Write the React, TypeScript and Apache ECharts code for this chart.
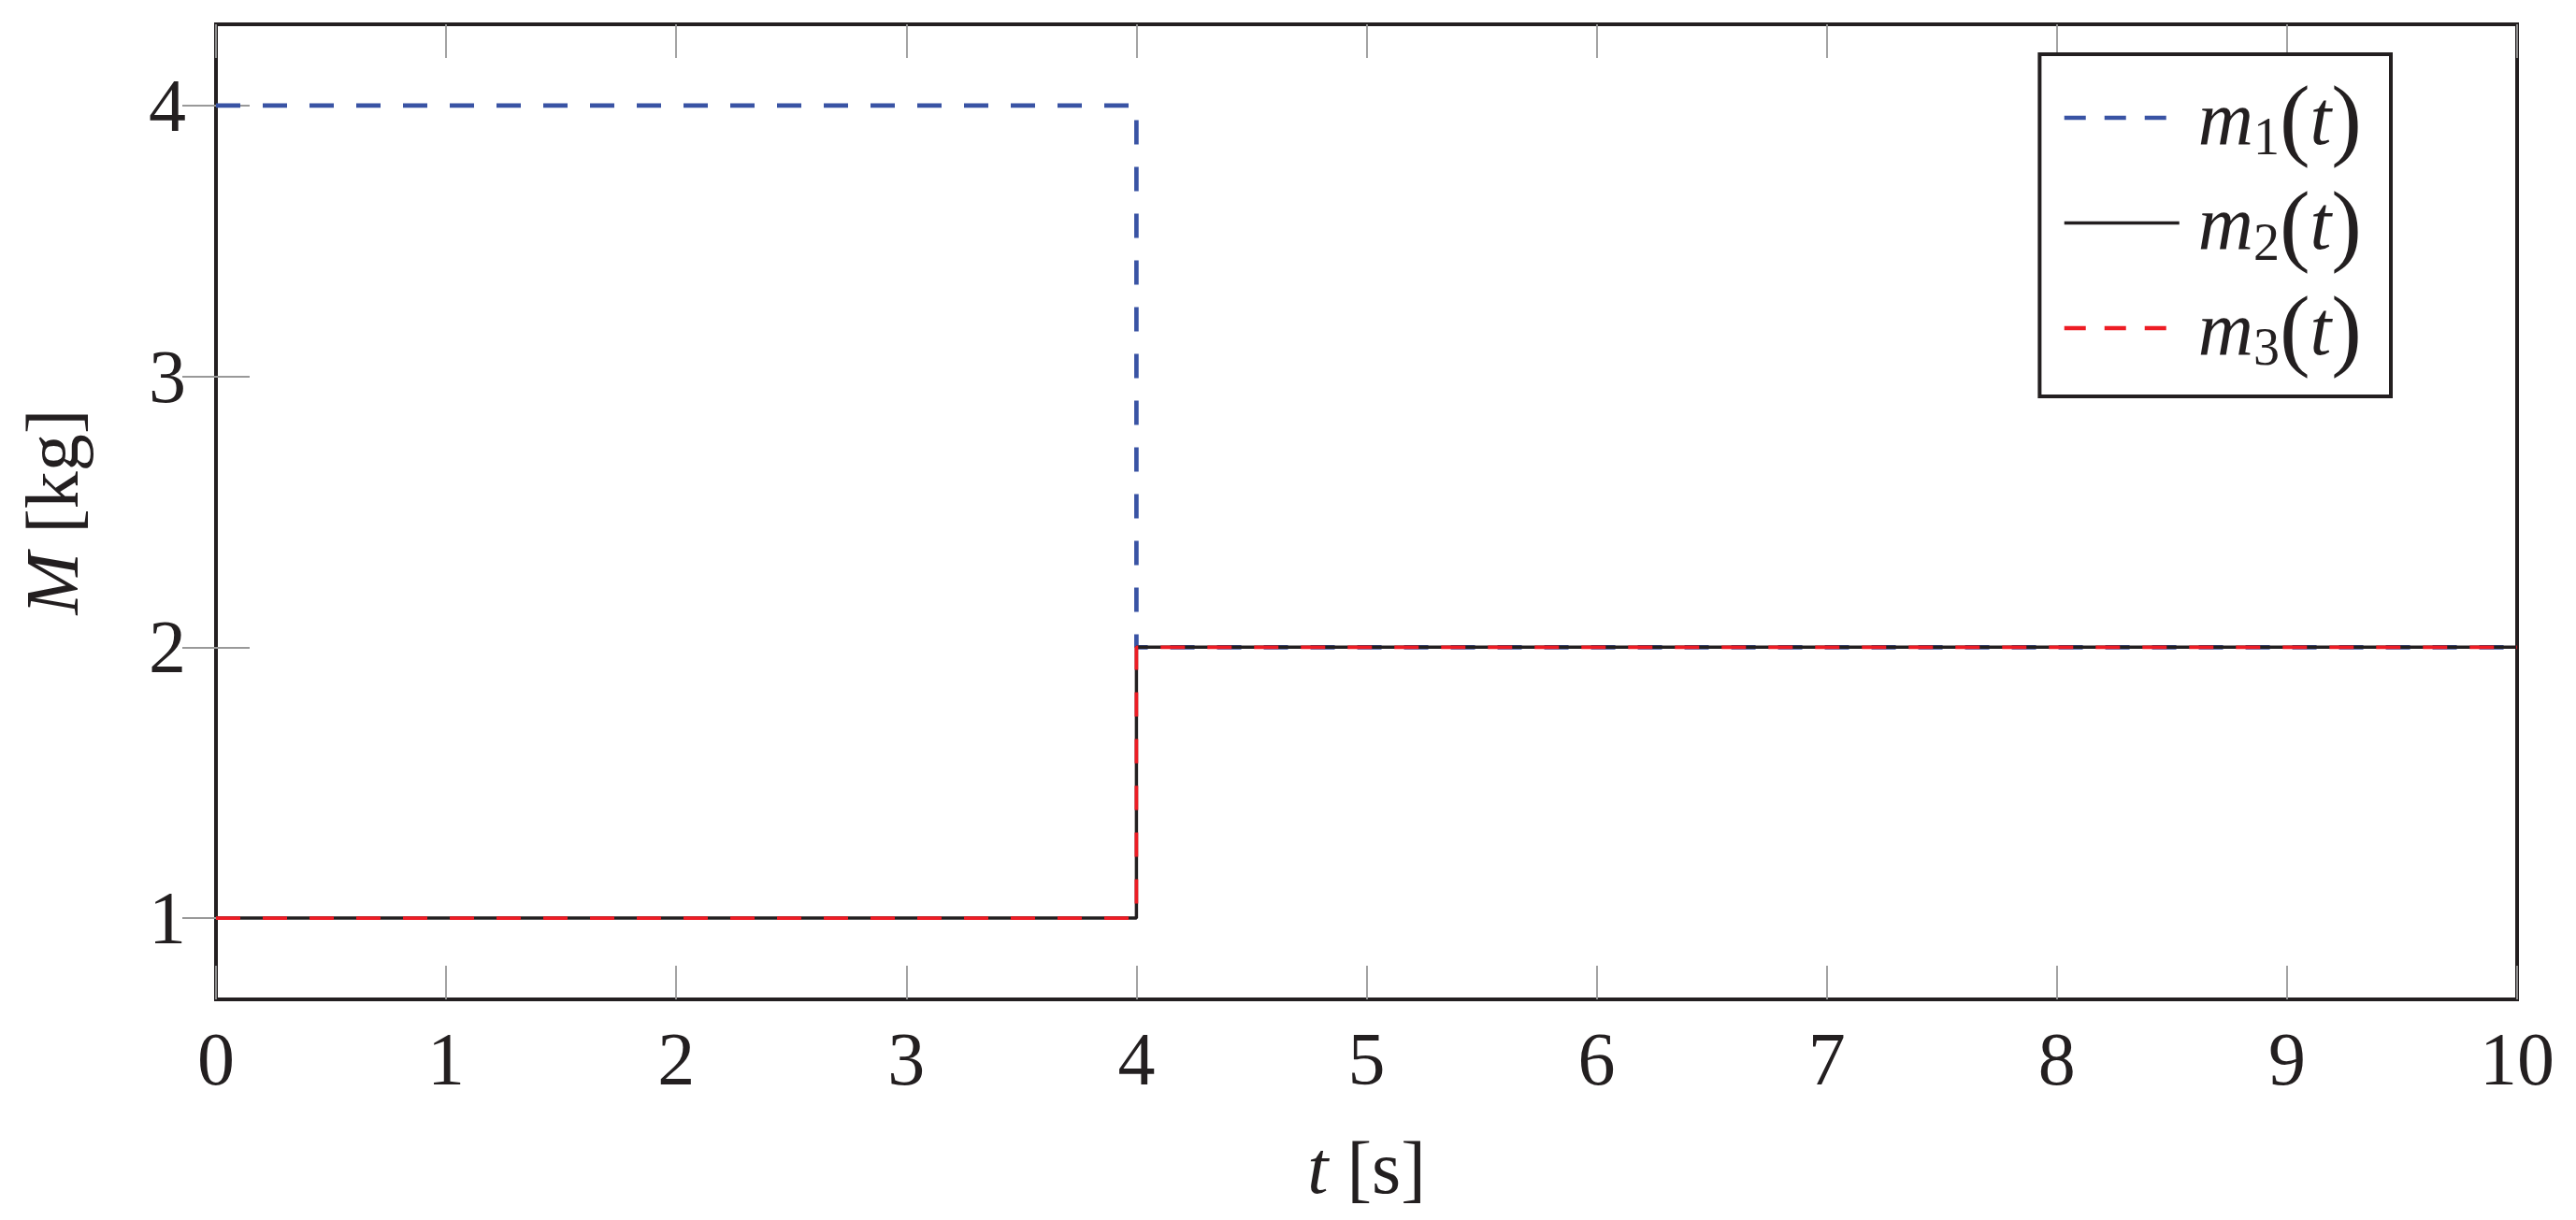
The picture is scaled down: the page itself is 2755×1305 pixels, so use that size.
import React, { useEffect, useRef } from "react";
import * as echarts from "echarts";

// ---- data ----
const timeS: number[] = [0, 4, 4, 10];
const m1Values: number[] = [4, 4, 2, 2];
const m2Values: number[] = [1, 1, 2, 2];
const m3Values: number[] = [1, 1, 2, 2];
const seriesNames: string[] = ["m1", "m2", "m3"];
const yTickValues: number[] = [1, 2, 3, 4];
const xRange: number[] = [0, 10];
const yRange: number[] = [0.7, 4.3];

const FONT = "'Liberation Serif', 'DejaVu Serif', serif";
const INK = "#231f20";
const TICK = "#999999";

const pairs = (xs: number[], ys: number[]) => xs.map((x, i) => [x, ys[i]]);

export default function App() {
  const ref = useRef<HTMLDivElement>(null);
  useEffect(() => {
    if (!ref.current) return;
    const chart = echarts.init(ref.current, undefined, { renderer: "svg" });
    const tickCommon = {
      show: true,
      inside: true,
      length: 36,
      lineStyle: { color: TICK, width: 1.8 },
    };
    const legendRich = {
      i: { fontFamily: FONT, fontStyle: "italic", fontSize: 82, color: INK, lineHeight: 96 },
      s: { fontFamily: FONT, fontSize: 56, color: INK, lineHeight: 50, verticalAlign: "bottom" },
      r: { fontFamily: FONT, fontSize: 98, color: INK, lineHeight: 96 },
    };
    const option: any = {
      animation: false,
      backgroundColor: "#ffffff",
      grid: {
        left: 231,
        right: 63,
        top: 26,
        bottom: 236,
        show: true,
        borderColor: INK,
        borderWidth: 4,
        backgroundColor: "transparent",
        containLabel: false,
      },
      legend: {
        orient: "vertical",
        right: 198,
        top: 58,
        padding: [19, 31, 24, 24],
        itemGap: 14.5,
        itemWidth: 123,
        itemHeight: 30,
        selectedMode: false,
        borderColor: INK,
        borderWidth: 4,
        backgroundColor: "#ffffff",
        itemStyle: { opacity: 0, color: "transparent", borderWidth: 0 },
        data: [
          { name: seriesNames[0], lineStyle: { type: [23, 20], width: 4.7, color: "#3953a4" } },
          { name: seriesNames[1], lineStyle: { type: "solid", width: 3.5, color: INK } },
          { name: seriesNames[2], lineStyle: { type: [23, 20], width: 4.7, color: "#ed1c24" } },
        ],
        formatter: (name: string) => `{i|m}{s|${name.slice(1)}}{r|(}{i|t}{r|)}`,
        textStyle: { padding: [0, 0, 0, 15], rich: legendRich },
      },
      xAxis: [
        {
          type: "value",
          position: "bottom",
          min: xRange[0],
          max: xRange[1],
          interval: 1,
          axisLine: { show: false },
          axisTick: tickCommon,
          splitLine: { show: false },
          axisLabel: { fontFamily: FONT, fontSize: 80, color: INK, margin: 24 },
          name: "{i|t} [s]",
          nameLocation: "middle",
          nameGap: 140,
          nameTextStyle: {
            fontFamily: FONT,
            fontSize: 80,
            color: INK,
            rich: { i: { fontFamily: FONT, fontStyle: "italic", fontSize: 80, color: INK } },
          },
        },
        {
          type: "value",
          position: "top",
          min: xRange[0],
          max: xRange[1],
          interval: 1,
          axisLine: { show: false },
          axisTick: tickCommon,
          splitLine: { show: false },
          axisLabel: { show: false },
        },
      ],
      yAxis: [
        {
          type: "value",
          position: "left",
          min: yRange[0],
          max: yRange[1],
          axisLine: { show: false },
          axisTick: { ...tickCommon, customValues: yTickValues },
          splitLine: { show: false },
          axisLabel: {
            fontFamily: FONT,
            fontSize: 80,
            color: INK,
            margin: 32,
            customValues: yTickValues,
          },
          name: "{i|M} [kg]",
          nameLocation: "middle",
          nameGap: 135,
          nameRotate: 90,
          nameTextStyle: {
            fontFamily: FONT,
            fontSize: 80,
            color: INK,
            rich: { i: { fontFamily: FONT, fontStyle: "italic", fontSize: 80, color: INK } },
          },
        },
        {
          type: "value",
          position: "right",
          min: yRange[0],
          max: yRange[1],
          axisLine: { show: false },
          axisTick: { ...tickCommon, customValues: yTickValues },
          splitLine: { show: false },
          axisLabel: { show: false, customValues: yTickValues },
        },
      ],
      series: [
        {
          name: seriesNames[0],
          type: "line",
          xAxisIndex: 0,
          yAxisIndex: 0,
          data: pairs(timeS, m1Values),
          symbol: "none",
          lineStyle: { color: "#3953a4", width: 4.7, type: [26, 24] },
          itemStyle: { color: "#3953a4" },
          z: 2,
        },
        {
          name: seriesNames[1],
          type: "line",
          xAxisIndex: 0,
          yAxisIndex: 0,
          data: pairs(timeS, m2Values),
          symbol: "none",
          lineStyle: { color: INK, width: 3.5, type: "solid" },
          itemStyle: { color: INK },
          z: 3,
        },
        {
          name: seriesNames[2],
          type: "line",
          xAxisIndex: 0,
          yAxisIndex: 0,
          data: pairs(timeS, m3Values),
          symbol: "none",
          lineStyle: { color: "#ed1c24", width: 3.8, type: [26, 24] },
          itemStyle: { color: "#ed1c24" },
          z: 4,
        },
      ],
    };
    chart.setOption(option);
    return () => chart.dispose();
  }, []);
  return (
    <div
      ref={ref}
      style={{ position: "fixed", left: 0, top: 0, width: 2755, height: 1305, background: "#fff" }}
    />
  );
}
